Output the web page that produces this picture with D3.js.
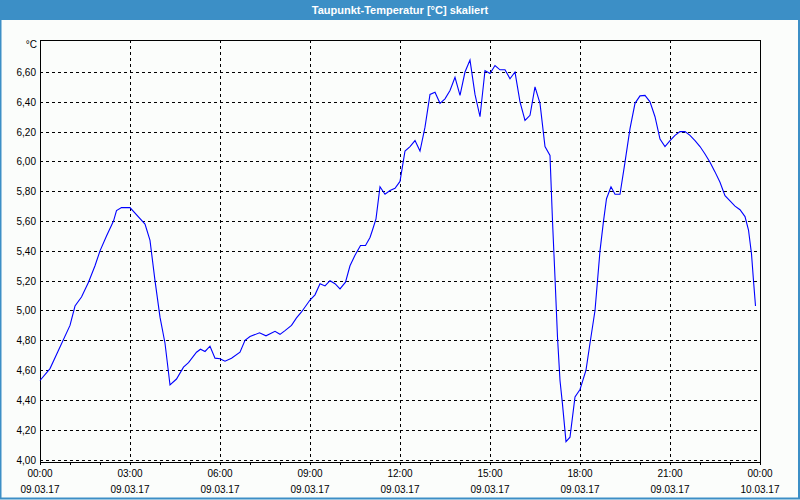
<!DOCTYPE html>
<html><head><meta charset="utf-8">
<script src="https://cdn.jsdelivr.net/npm/d3@7"></script>
<style>
html,body{margin:0;padding:0;background:#fbfdfb;}
svg{display:block;}
text{font-family:"Liberation Sans",Arial,sans-serif;}
</style></head>
<body><svg id="c" width="800" height="500"></svg>
<script>
const title = "Taupunkt-Temperatur [°C] skaliert";
const unitLabel = "°C";
const yTicks = [4.0,4.2,4.4,4.6,4.8,5.0,5.2,5.4,5.6,5.8,6.0,6.2,6.4,6.6];
const xTickHours = [0,3,6,9,12,15,18,21,24];
// minutes after 09.03.17 00:00
const minutes = [0,20,60,70,83,97,110,120,133,147,153,163,180,210,220,230,240,250,260,273,287,297,313,321,330,340,350,360,370,383,400,410,420,439,452,470,480,490,503,513,523,540,550,560,570,580,590,600,611,620,630,641,651,660,665,672,680,690,700,710,720,730,740,750,760,770,780,790,800,810,820,830,840,850,860,870,880,890,900,910,920,930,940,950,960,970,980,990,1000,1010,1020,1025,1030,1035,1040,1045,1052,1060,1070,1080,1092,1100,1110,1120,1127,1133,1142,1150,1160,1170,1180,1190,1200,1210,1220,1230,1240,1250,1260,1270,1280,1290,1300,1310,1320,1330,1340,1350,1360,1370,1380,1390,1400,1410,1417,1423,1427,1431];
const dewPoint = [4.53,4.61,4.90,5.03,5.09,5.19,5.30,5.40,5.50,5.60,5.67,5.69,5.69,5.58,5.47,5.20,4.955,4.78,4.50,4.54,4.62,4.65,4.72,4.74,4.725,4.76,4.68,4.676,4.66,4.68,4.72,4.80,4.825,4.85,4.83,4.86,4.84,4.865,4.90,4.95,4.99,5.07,5.105,5.18,5.165,5.20,5.18,5.145,5.19,5.30,5.37,5.436,5.436,5.49,5.54,5.615,5.83,5.78,5.805,5.82,5.866,6.07,6.10,6.14,6.07,6.23,6.45,6.465,6.39,6.42,6.476,6.565,6.443,6.60,6.68,6.45,6.30,6.61,6.59,6.644,6.615,6.615,6.555,6.60,6.40,6.275,6.31,6.50,6.39,6.10,6.04,5.60,5.22,4.82,4.53,4.37,4.12,4.15,4.42,4.47,4.60,4.78,5.00,5.40,5.60,5.75,5.83,5.78,5.78,5.995,6.22,6.39,6.44,6.443,6.40,6.30,6.15,6.10,6.14,6.175,6.20,6.20,6.175,6.14,6.10,6.05,5.995,5.93,5.86,5.77,5.735,5.70,5.676,5.63,5.54,5.38,5.20,5.03];

const svg = d3.select("#c");
const W = 800, H = 500;
const L = 40, R = 760, T = 40, B = 459.5;
const start = new Date(2017,2,9,0,0);
const end = new Date(2017,2,10,0,0);
const x = d3.scaleTime().domain([start,end]).range([L,R]);
const y = d3.scaleLinear().domain([4,6.815]).range([B,T]);
const locale = d3.formatLocale({decimal:",",thousands:".",grouping:[3],currency:["","€"]});
const fmtY = locale.format(".2f");

// window frame
svg.append("rect").attr("x",0).attr("y",0).attr("width",W).attr("height",H).attr("fill","#fbfdfb");
svg.append("rect").attr("x",0).attr("y",0).attr("width",W).attr("height",20).attr("fill","#3c8fc6");
svg.append("rect").attr("x",0.5).attr("y",0.5).attr("width",W-1.5).attr("height",H-2).attr("fill","none").attr("stroke","#3c8fc6").attr("stroke-width",2);
svg.append("text").attr("x",W/2).attr("y",14).attr("text-anchor","middle").attr("fill","#ffffff")
  .attr("font-size","11px").attr("font-weight","bold").text(title);

const g = svg.append("g");
const px = v => Math.round(v)+0.5;

// horizontal grid
g.selectAll(".hg").data(yTicks).join("line")
  .attr("x1",L).attr("x2",R).attr("y1",d=>px(y(d))).attr("y2",d=>px(y(d)))
  .attr("stroke","#000").attr("stroke-dasharray","3,3").attr("shape-rendering","crispEdges");
// vertical grid
const xGridDates = xTickHours.map(h=>d3.timeHour.offset(start,h));
g.selectAll(".vg").data(xGridDates.slice(1,-1)).join("line")
  .attr("x1",d=>px(x(d))).attr("x2",d=>px(x(d))).attr("y1",T).attr("y2",B)
  .attr("stroke","#000").attr("stroke-dasharray","3,3").attr("shape-rendering","crispEdges");

// frame lines
g.append("line").attr("x1",px(L)).attr("x2",px(L)).attr("y1",T).attr("y2",px(B)+1).attr("stroke","#000").attr("shape-rendering","crispEdges");
g.append("line").attr("x1",px(R)).attr("x2",px(R)).attr("y1",T).attr("y2",px(B)+1).attr("stroke","#000").attr("shape-rendering","crispEdges");
g.append("line").attr("x1",L).attr("x2",R).attr("y1",px(T)).attr("y2",px(T)).attr("stroke","#000").attr("shape-rendering","crispEdges");

// bottom axis
const xAxis = d3.axisBottom(x).ticks(d3.timeHour.every(1)).tickSize(3).tickFormat("");
const ax = g.append("g").attr("transform",`translate(0,${px(B)+1})`).call(xAxis);
ax.select(".domain").attr("stroke","#000").attr("shape-rendering","crispEdges");
ax.selectAll(".tick line").attr("stroke","#000").attr("shape-rendering","crispEdges");

// x labels
const fTime = d3.timeFormat("%H:%M"), fDate = d3.timeFormat("%d.%m.%y");
const xl = g.selectAll(".xl").data(xGridDates).join("text")
  .attr("text-anchor","middle").attr("font-size","10px").attr("fill","#000");
xl.append("tspan").attr("x",d=>x(d)).attr("y",477).text(d=>fTime(d));
xl.append("tspan").attr("x",d=>x(d)).attr("y",493).text(d=>fDate(d));

// y labels
g.selectAll(".yl").data(yTicks).join("text")
  .attr("x",36).attr("y",d=>y(d)+4).attr("text-anchor","end").attr("font-size","10px").attr("fill","#000")
  .text(d=>fmtY(d));
g.append("text").attr("x",37).attr("y",48).attr("text-anchor","end").attr("font-size","10px").attr("fill","#000").text(unitLabel);

// data line
const pts = minutes.map((m,i)=>({t:d3.timeMinute.offset(start,m), v:dewPoint[i]}));
const line = d3.line().x(d=>x(d.t)).y(d=>y(d.v));
g.append("path").datum(pts).attr("d",line).attr("fill","none").attr("stroke","#0000ff").attr("stroke-width",1.1);
</script></body></html>
